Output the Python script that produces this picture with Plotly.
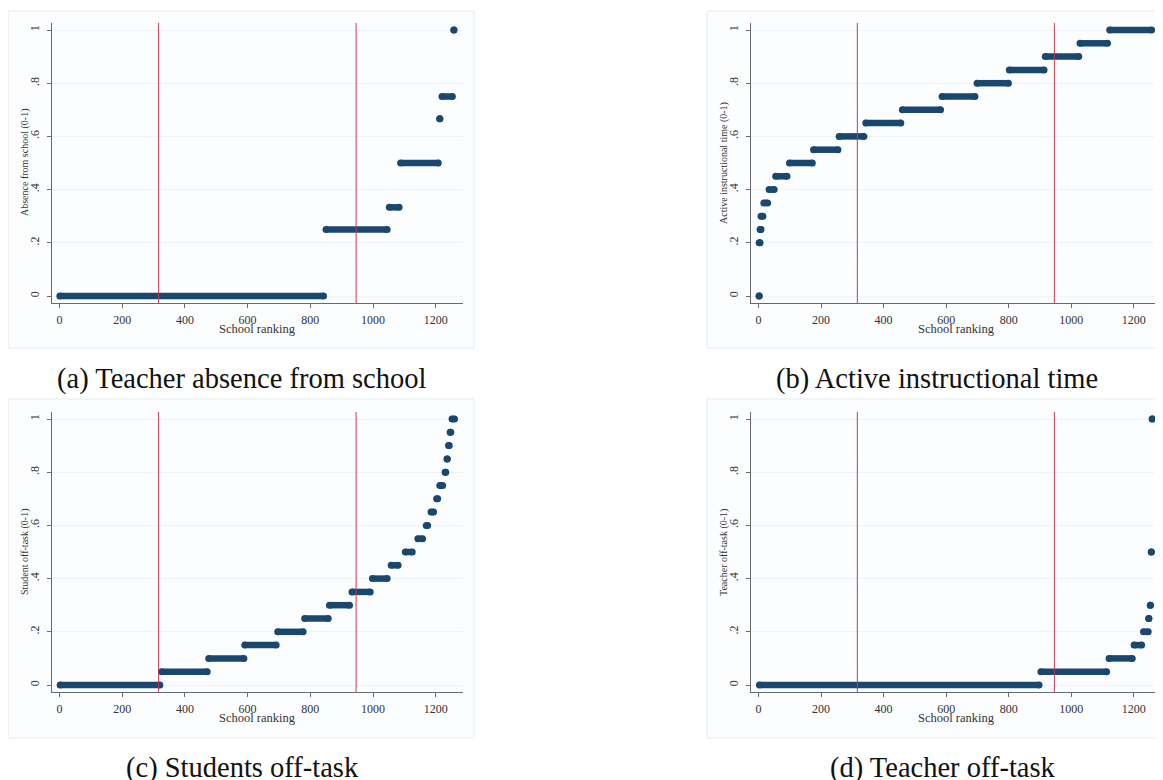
import plotly.graph_objects as go

W, H = 1163, 780
OFF = 8  # page body margin of the html page

# ---------------- data ----------------
# each horizontal run: value on y, first and last school rank on x
a_vals = [0, 0.25, 0.3333, 0.5, 0.6667, 0.75, 1.0]
a_start = [1, 850, 1052, 1088, 1213, 1220, 1258]
a_end = [842, 1045, 1083, 1208, 1213, 1253, 1258]

b_vals = [0, 0.2, 0.25, 0.3, 0.35, 0.4, 0.45, 0.5, 0.55, 0.6, 0.65, 0.7, 0.75, 0.8, 0.85, 0.9, 0.95, 1.0]
b_start = [2, 2, 5, 8, 17, 34, 55, 99, 176, 258, 343, 460, 587, 699, 802, 917, 1028, 1123]
b_end = [2, 5, 8, 14, 29, 50, 91, 172, 254, 337, 455, 582, 692, 799, 913, 1024, 1116, 1257]

c_vals = [0, 0.05, 0.1, 0.15, 0.2, 0.25, 0.3, 0.35, 0.4, 0.45, 0.5, 0.55, 0.6, 0.65, 0.7, 0.75, 0.8, 0.85, 0.9, 0.95, 1.0]
c_start = [2, 326, 476, 591, 696, 782, 861, 933, 998, 1058, 1103, 1143, 1170, 1185, 1203, 1213, 1230, 1236, 1241, 1246, 1252]
c_end = [320, 471, 588, 691, 777, 857, 925, 991, 1045, 1080, 1125, 1158, 1174, 1193, 1206, 1222, 1232, 1237, 1243, 1248, 1260]

d_vals = [0, 0.05, 0.1, 0.15, 0.2, 0.25, 0.3, 0.5, 1.0]
d_start = [3, 903, 1121, 1201, 1231, 1248, 1253, 1256, 1259]
d_end = [897, 1113, 1195, 1225, 1246, 1248, 1253, 1256, 1259]

quartile_lines = [316, 946]

x_ticks = [0, 200, 400, 600, 800, 1000, 1200]
y_ticks = [0, 0.2, 0.4, 0.6, 0.8, 1.0]
y_ticktext = ["0", ".2", ".4", ".6", ".8", "1"]

y_titles = ["Absence from school (0-1)", "Active instructional time (0-1)",
            "Student off-task (0-1)", "Teacher off-task (0-1)"]
captions = ["(a) Teacher absence from school", "(b) Active instructional time",
            "(c) Students off-task", "(d) Teacher off-task"]
x_title = "School ranking"

# ---------------- styling ----------------
NAVY = "#1a476f"
RED = "#c23b54"
SERIF = "Liberation Serif"
AXC = "#6a6a6a"

FW, FH = W - OFF, H - OFF

# pixel geometry of panels (in page pixels)
panels = [
    dict(frame=(8, 11, 474, 348), plot=(52, 23, 463, 303)),
    dict(frame=(707, 11, 1173, 348), plot=(751, 23, 1161, 303)),
    dict(frame=(8, 399, 474, 738), plot=(52, 412, 463, 692)),
    dict(frame=(707, 399, 1173, 738), plot=(751, 412, 1161, 692)),
]
cap_pos = [(241, 379), (937, 379), (242, 768), (943, 768)]

def px(x):
    return (x - OFF) / FW

def py(y):
    return 1 - (y - OFF) / FH

series = [(a_vals, a_start, a_end), (b_vals, b_start, b_end),
          (c_vals, c_start, c_end), (d_vals, d_start, d_end)]

fig = go.Figure()
layout = dict(width=FW, height=FH, margin=dict(l=0, r=0, t=0, b=0), autosize=False,
              paper_bgcolor="white", plot_bgcolor="white", showlegend=False,
              font=dict(family=SERIF, color="#222"))
shapes = []
annotations = []

for i, (vals, st, en) in enumerate(series):
    k = "" if i == 0 else str(i + 1)
    xs, ys = [], []
    for v, s, e in zip(vals, st, en):
        xs += [s, e, None]
        ys += [v, v, None]
    fig.add_trace(go.Scatter(x=xs, y=ys, mode="lines+markers", xaxis="x" + k, yaxis="y" + k,
                             line=dict(color=NAVY, width=6.5),
                             marker=dict(color=NAVY, size=7, line=dict(width=0)),
                             hoverinfo="skip"))
    fx0, fy0, fx1, fy1 = panels[i]["frame"]
    shapes.append(dict(type="rect", xref="paper", yref="paper", x0=px(fx0), x1=px(fx1),
                       y0=py(fy1), y1=py(fy0), line=dict(color="#e6ecef", width=1),
                       fillcolor="#fcfdfe", layer="below"))
    x0, y0, x1, y1 = panels[i]["plot"]
    layout["xaxis" + k] = dict(domain=[px(x0), min(px(x1), 1)], range=[-24, 1287],
                               anchor="y" + k, tickvals=x_ticks, ticks="outside", ticklen=4,
                               tickcolor=AXC, showline=True, linecolor=AXC, linewidth=1,
                               showgrid=False, zeroline=False, ticklabelstandoff=2,
                               tickfont=dict(family=SERIF, size=12, color="#333"))
    layout["yaxis" + k] = dict(domain=[py(y1), py(y0)], range=[-0.0263, 1.0263],
                               anchor="x" + k, tickvals=y_ticks, ticktext=y_ticktext,
                               tickangle=-90, ticks="outside", ticklen=4, tickcolor=AXC,
                               showline=True, linecolor=AXC, linewidth=1,
                               showgrid=True, gridcolor="#eef3f5", gridwidth=1,
                               zeroline=False, ticklabelstandoff=3,
                               tickfont=dict(family=SERIF, size=12, color="#333"))
    for q in quartile_lines:
        shapes.append(dict(type="line", xref="x" + k, yref="y" + k + " domain",
                           x0=q, x1=q, y0=0, y1=1, line=dict(color=RED, width=1)))
    # axis titles
    annotations.append(dict(text=x_title, xref="paper", yref="paper",
                            x=px((x0 + x1) / 2), y=py(y1 + 26), showarrow=False,
                            xanchor="center", yanchor="middle",
                            font=dict(family=SERIF, size=12.5, color="#333")))
    annotations.append(dict(text=y_titles[i], xref="paper", yref="paper",
                            x=px(x0 - 27), y=py((y0 + y1) / 2), textangle=-90,
                            showarrow=False, xanchor="center", yanchor="middle",
                            font=dict(family=SERIF, size=10, color="#333")))
    cx, cy = cap_pos[i]
    annotations.append(dict(text=captions[i], xref="paper", yref="paper", x=px(cx), y=py(cy),
                            showarrow=False, xanchor="center", yanchor="middle",
                            font=dict(family=SERIF, size=28.5, color="#111")))

layout["shapes"] = shapes
layout["annotations"] = annotations
fig.update_layout(**layout)
fig.write_html("out.html")
